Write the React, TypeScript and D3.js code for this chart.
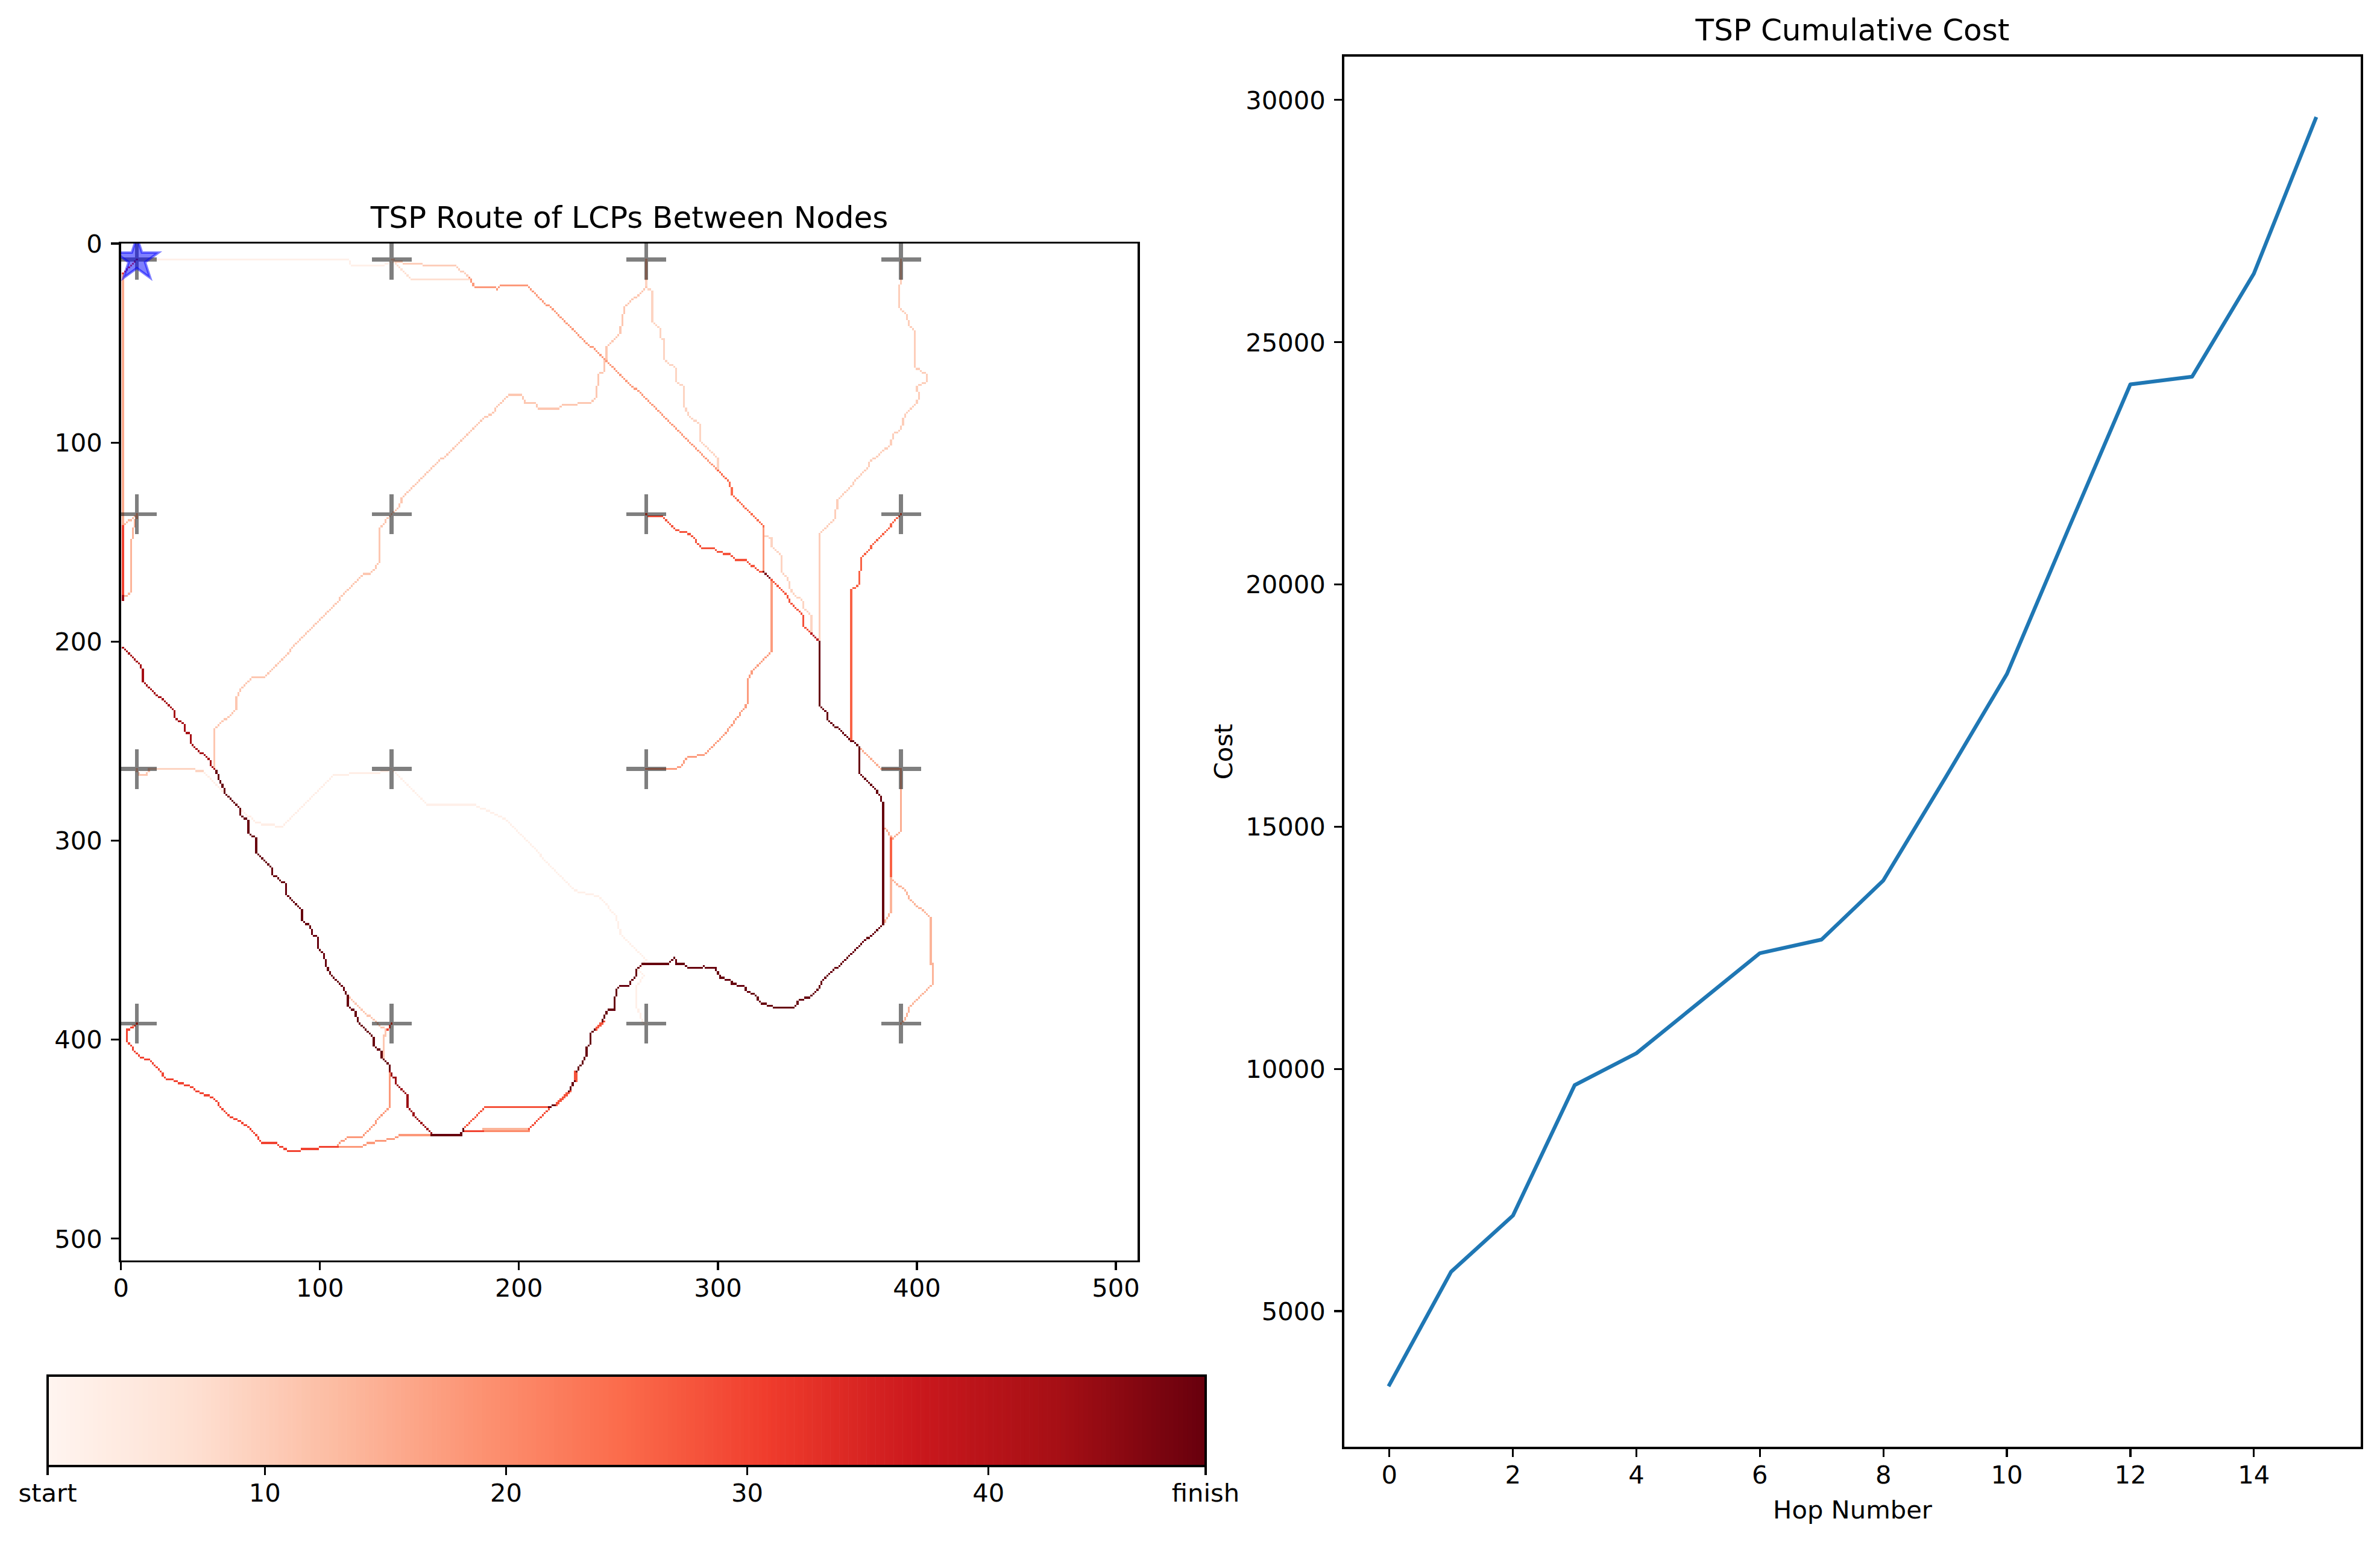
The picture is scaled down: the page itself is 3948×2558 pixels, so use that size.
import * as d3 from "d3";
import { useEffect, useRef } from "react";

type Pt = [number, number];

const hops = d3.range(16);
const cumulativeCost = [3482, 5814, 6972, 9665, 10323, 11356, 12389, 12670, 13892, 16000, 18150, 21155, 24130, 24287, 26416, 29612];

const gridTicks = [0, 100, 200, 300, 400, 500];
const nodeCoords = [8, 136, 264, 392];
const startNode: Pt = [8, 8];
const barTicks = [1, 10, 20, 30, 40, 49];
const barLabels = ["start", "10", "20", "30", "40", "finish"];
const hopTicks = [0, 2, 4, 6, 8, 10, 12, 14];
const costTicks = [5000, 10000, 15000, 20000, 25000, 30000];
const redsStops = ["#fff5f0", "#fee0d2", "#fcbba1", "#fc9272", "#fb6a4a", "#ef3b2c", "#cb181d", "#a50f15", "#67000d"];

// pieces of the route, [shade, cells as x,y]. shade is on the colourbar scale
const routes: [number, Pt[]][] = [
  [2.5, [[8, 8], [114, 8], [116, 11], [132, 11], [136, 8]]],
  [7, [[136, 8], [146, 18], [175, 18]]],
  [10, [[136, 8], [143, 10], [151, 10], [152, 11], [168, 11], [175, 17]]],
  [18, [[175, 17], [178, 22], [188, 22], [189, 23], [191, 21], [204, 21], [269, 83], [300, 114]]],
  [25, [[300, 114], [306, 120], [307, 126], [320, 139], [323, 142]]],
  [18, [[323, 142], [323, 165]]],
  [9, [[264, 18], [264, 22], [267, 24], [267, 39], [271, 43], [271, 47], [273, 48], [273, 58], [279, 63], [279, 69], [283, 72], [283, 81], [285, 86], [291, 91], [291, 99], [300, 108], [300, 114]]],
  [9, [[323, 146], [327, 148], [327, 152], [332, 157], [332, 165], [335, 168], [337, 175], [343, 180], [343, 183], [347, 187], [347, 196], [351, 200]]],
  [13, [[264, 8], [264, 18]]],
  [11, [[264, 22], [253, 32], [251, 45], [244, 52], [243, 64], [240, 66], [239, 77], [236, 80], [222, 81], [220, 83], [210, 83], [208, 80], [203, 80], [201, 76], [195, 76], [188, 83], [187, 85], [183, 87], [141, 128], [140, 132], [136, 136]]],
  [11, [[136, 136], [130, 143], [130, 160], [125, 166], [122, 166], [72, 218], [66, 218], [60, 224], [58, 228], [58, 234], [47, 244], [47, 264]]],
  [9, [[14, 264], [37, 264], [38, 265], [41, 265]]],
  [11, [[8, 264], [9, 267], [13, 267], [14, 264]]],
  [3, [[41, 265], [60, 284], [68, 291], [74, 292], [81, 293], [107, 267], [121, 266], [129, 266], [136, 264]]],
  [2.5, [[136, 264], [154, 282], [177, 282], [185, 285], [194, 290], [228, 325], [240, 328], [249, 338], [251, 347], [264, 360], [260, 365], [263, 368], [259, 373], [259, 383], [262, 391], [264, 392]]],
  [12, [[392, 8], [392, 18]]],
  [10, [[392, 18], [391, 23], [391, 32], [395, 36], [396, 41], [399, 44], [399, 62], [405, 66], [405, 69], [400, 72], [401, 77], [399, 81], [394, 86], [392, 93], [388, 96], [387, 101], [376, 110], [376, 112], [360, 129], [359, 138], [351, 146], [351, 200]]],
  [28, [[264, 136], [265, 137], [272, 137], [279, 144], [286, 146], [292, 153], [298, 153], [300, 155], [306, 156], [309, 159], [314, 159], [321, 165], [323, 165], [335, 177], [336, 180], [343, 187], [343, 192], [347, 196]]],
  [47, [[323, 165], [326, 168]]],
  [40, [[347, 196], [351, 200]]],
  [26, [[392, 136], [372, 158], [371, 171], [367, 174], [367, 249], [371, 253]]],
  [15, [[371, 253], [382, 264], [392, 264], [392, 295], [388, 299], [384, 294]]],
  [26, [[387, 299], [387, 318]]],
  [14, [[387, 318], [387, 335], [385, 339], [383, 342]]],
  [14, [[387, 319], [395, 326], [396, 329], [407, 339], [407, 362], [408, 362], [408, 372], [396, 384], [395, 388], [392, 392]]],
  [17.5, [[264, 264], [278, 264], [281, 263], [285, 258], [293, 257], [303, 247], [306, 243], [313, 234], [315, 230], [315, 220], [317, 215], [327, 205], [327, 170]]],
  [15.5, [[1, 15], [1, 142]]],
  [30, [[1, 142], [1, 178]]],
  [13, [[8, 136], [1, 142]]],
  [14, [[1, 178], [5, 175], [5, 152], [6, 144], [8, 136]]],
  [43, [[1, 177], [1, 179]]],
  [30, [[8, 8], [1, 15]]],
  [43, [[1, 203], [9, 211], [11, 215], [11, 220], [27, 235], [27, 238], [32, 242], [32, 245], [35, 247], [35, 251], [45, 260], [45, 262], [48, 265]]],
  [49, [[48, 265], [49, 269], [51, 272], [52, 276], [60, 284], [60, 287], [64, 290], [64, 296], [68, 299], [68, 306], [76, 314], [76, 317], [83, 322], [83, 327], [91, 335], [91, 340], [95, 343], [96, 347], [99, 349], [99, 354], [102, 357], [103, 362], [105, 367], [111, 373], [114, 378], [114, 383], [118, 386], [119, 391], [127, 399], [127, 403], [131, 406], [131, 409], [135, 413], [135, 415]]],
  [44, [[135, 415], [136, 418], [138, 419], [138, 422], [143, 427], [144, 429], [144, 434], [147, 437], [147, 438], [156, 447]]],
  [49, [[156, 448], [171, 448], [172, 445]]],
  [28, [[172, 445], [183, 434], [215, 434]]],
  [30, [[172, 446], [182, 446]]],
  [20, [[182, 446], [205, 446]]],
  [14, [[182, 445], [205, 445]]],
  [29, [[205, 445], [215, 435]]],
  [49, [[215, 434], [218, 433]]],
  [28, [[218, 433], [225, 426]]],
  [28, [[219, 433], [226, 426]]],
  [49, [[225, 426], [228, 421]]],
  [28, [[228, 421], [228, 416]]],
  [28, [[229, 421], [229, 416]]],
  [49, [[229, 416], [231, 413], [233, 409], [234, 408], [234, 404], [236, 402], [236, 397], [238, 395]]],
  [28, [[238, 395], [242, 391]]],
  [28, [[239, 395], [243, 391]]],
  [49, [[242, 391], [243, 388], [245, 385], [248, 385], [248, 381], [249, 375], [251, 373], [255, 373], [256, 371], [259, 368], [259, 365], [262, 362], [275, 362], [278, 359], [279, 360], [279, 362], [283, 362], [285, 364], [292, 364], [293, 363], [295, 364], [299, 364], [301, 369], [306, 370], [307, 372], [313, 373], [315, 376], [318, 377], [322, 382], [327, 383], [328, 384], [338, 384], [341, 380], [346, 379], [350, 375], [352, 371], [383, 342], [383, 283], [382, 278], [378, 273], [371, 266], [371, 253], [355, 239], [355, 236], [351, 232], [351, 200]]],
  [30, [[8, 392], [7, 393], [4, 395], [3, 395], [3, 401], [5, 403], [6, 405], [10, 409], [14, 410], [18, 414], [23, 420], [26, 420], [28, 421], [30, 422], [33, 423], [36, 424], [40, 427], [44, 428], [47, 430], [51, 435], [53, 437], [55, 439], [60, 441], [64, 444], [67, 447], [71, 452], [78, 452], [80, 454], [83, 455], [85, 456], [96, 455], [102, 454], [109, 454]]],
  [18, [[109, 454], [121, 454], [124, 452], [130, 451], [136, 450], [140, 448], [157, 448]]],
  [18, [[109, 453], [114, 449], [121, 449], [135, 434], [135, 415]]],
  [11, [[115, 379], [121, 385], [124, 388], [125, 388], [130, 393], [133, 395], [133, 398], [132, 398], [132, 409]]],
  [30, [[134, 395], [136, 392]]],
  [16, [[5, 394], [8, 392]]],
];

const font = "'DejaVu Sans'";
const tickFont = 41.67;
const titleFont = 50;
const thin = 3.33;

// the map is a raster, so a route piece shows up as a chain of whole cells
const cellsOf = (pts: Pt[]) => {
  const cells = new Set<string>();
  d3.pairs(pts).forEach(([a, b]) => {
    const n = Math.max(Math.abs(b[0] - a[0]), Math.abs(b[1] - a[1]), 1);
    for (let i = 0; i <= n; i++) {
      cells.add(`${Math.round(a[0] + (b[0] - a[0]) * i / n)},${Math.round(a[1] + (b[1] - a[1]) * i / n)}`);
    }
  });
  return Array.from(cells, c => c.split(",").map(Number));
};

export default function App() {
  const svgRef = useRef<SVGSVGElement>(null);

  useEffect(() => {
    const canvas = d3.select(svgRef.current);
    canvas.selectAll("*").remove();

    const reds = d3.scaleLinear<string>()
      .domain(d3.range(redsStops.length).map(i => 1 + 6 * i))
      .range(redsStops)
      .interpolate(d3.interpolateRgb);

    const styleAxis = (g: any) => {
      g.attr("font-size", tickFont).attr("font-family", font);
      g.select(".domain").remove();
      g.selectAll("line").attr("stroke-width", thin).attr("shape-rendering", "crispEdges");
      g.selectAll("text").attr("fill", "#000");
    };
    const styleLeftAxis = (g: any) => {
      styleAxis(g);
      g.selectAll("text").attr("dy", "0.36em");
    };

    const frame = (x0: number, y0: number, x1: number, y1: number) =>
      canvas.append("rect")
        .attr("x", x0).attr("y", y0).attr("width", x1 - x0).attr("height", y1 - y0)
        .attr("fill", "none").attr("stroke", "#000").attr("stroke-width", thin)
        .attr("shape-rendering", "crispEdges");

    const title = (text: string, x: number, y: number) =>
      canvas.append("text").attr("x", x).attr("y", y).attr("text-anchor", "middle")
        .attr("font-family", font).attr("font-size", titleFont).text(text);

    // route map
    const mapX = d3.scaleLinear().domain([-0.5, 511.5]).range([199, 1889]);
    const mapY = d3.scaleLinear().domain([-0.5, 511.5]).range([402.5, 2092.5]);
    const cellW = mapX(1) - mapX(0);
    const cellH = mapY(1) - mapY(0);

    canvas.append("clipPath").attr("id", "mapClip").append("rect")
      .attr("x", 199).attr("y", 402.5).attr("width", 1690).attr("height", 1690);

    const map = canvas.append("g").attr("clip-path", "url(#mapClip)");

    map.selectAll("path.route")
      .data(d3.sort(routes, r => r[0]))
      .join("path")
      .attr("class", "route")
      .attr("d", r => cellsOf(r[1])
        .map(c => `M${mapX(c[0] - 0.5)} ${mapY(c[1] - 0.5)}h${cellW}v${cellH}h${-cellW}z`)
        .join(""))
      .attr("fill", r => reds(r[0]))
      .attr("shape-rendering", "crispEdges");

    map.selectAll("path.node")
      .data(d3.cross(nodeCoords, nodeCoords))
      .join("path")
      .attr("class", "node")
      .attr("d", "M-33 0H33M0-33V33")
      .attr("transform", d => `translate(${mapX(d[0])},${mapY(d[1])})`)
      .attr("fill", "none")
      .attr("stroke", "#000")
      .attr("stroke-opacity", 0.5)
      .attr("stroke-width", 6.25)
      .attr("shape-rendering", "crispEdges");

    map.append("path")
      .attr("d", d3.symbol(d3.symbolStar, 1579)())
      .attr("transform", `translate(${mapX(startNode[0])},${mapY(startNode[1])})`)
      .attr("fill", "#0000ff").attr("fill-opacity", 0.5)
      .attr("stroke", "#0000ff").attr("stroke-opacity", 0.5)
      .attr("stroke-width", 4.17);

    canvas.append("g").attr("transform", "translate(0,2092.5)")
      .call(d3.axisBottom(mapX).tickValues(gridTicks).tickSize(14.6).tickPadding(14.6).offset(0) as any)
      .call(styleAxis);
    canvas.append("g").attr("transform", "translate(199,0)")
      .call(d3.axisLeft(mapY).tickValues(gridTicks).tickSize(14.6).tickPadding(14.6).offset(0) as any)
      .call(styleLeftAxis);
    frame(199, 402.5, 1889, 2092.5);
    title("TSP Route of LCPs Between Nodes", 1044, 378);

    // colourbar
    const barX = d3.scaleLinear().domain([1, 49]).range([79, 2000]);
    canvas.append("g").selectAll("rect")
      .data(d3.range(256))
      .join("rect")
      .attr("x", i => barX(1 + 48 * i / 256))
      .attr("y", 2282)
      .attr("width", 1921 / 256 + 0.6)
      .attr("height", 150)
      .attr("fill", i => reds(1 + 48 * (i + 0.5) / 256));
    canvas.append("g").attr("transform", "translate(0,2432)")
      .call(d3.axisBottom(barX).tickValues(barTicks).tickSize(14.6).tickPadding(14.6).offset(0)
        .tickFormat((_, i) => barLabels[i]) as any)
      .call(styleAxis);
    frame(79, 2282, 2000, 2432);

    // cumulative cost
    const costX = d3.scaleLinear().domain([-0.75, 15.75]).range([2228, 3918]);
    const costY = d3.scaleLinear().domain([2176, 30918]).range([2402, 92]);

    canvas.append("path")
      .attr("d", d3.line<number>().x((_, i) => costX(hops[i])).y(v => costY(v))(cumulativeCost))
      .attr("fill", "none")
      .attr("stroke", "#1f77b4")
      .attr("stroke-width", 6.25)
      .attr("stroke-linecap", "square")
      .attr("stroke-linejoin", "round");

    canvas.append("g").attr("transform", "translate(0,2402)")
      .call(d3.axisBottom(costX).tickValues(hopTicks).tickSize(14.6).tickPadding(14.6).offset(0) as any)
      .call(styleAxis);
    canvas.append("g").attr("transform", "translate(2228,0)")
      .call(d3.axisLeft(costY).tickValues(costTicks).tickFormat(d3.format("d") as any).tickSize(14.6).tickPadding(14.6).offset(0) as any)
      .call(styleLeftAxis);
    frame(2228, 92, 3918, 2402);
    title("TSP Cumulative Cost", 3073, 67);

    canvas.append("text").attr("x", 3073).attr("y", 2519).attr("text-anchor", "middle")
      .attr("font-family", font).attr("font-size", tickFont).text("Hop Number");
    canvas.append("text").attr("transform", "translate(2044,1247) rotate(-90)").attr("text-anchor", "middle")
      .attr("font-family", font).attr("font-size", tickFont).text("Cost");
  }, []);

  return <svg ref={svgRef} width={3948} height={2558} style={{ position: "absolute", left: 0, top: 0, background: "#fff" }} />;
}
